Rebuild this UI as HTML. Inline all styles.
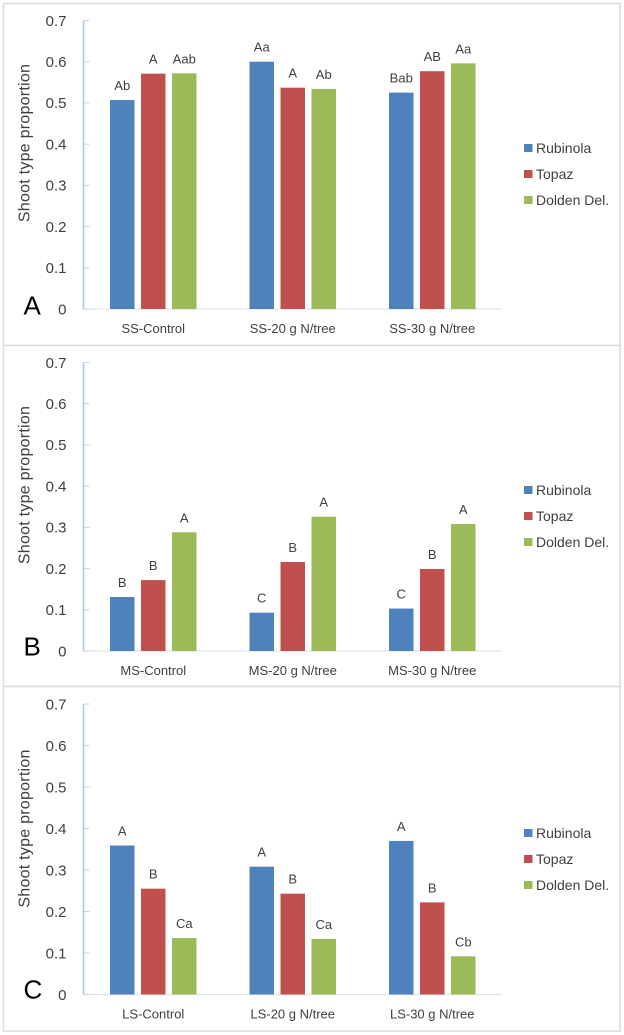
<!DOCTYPE html>
<html lang="en">
<head>
<meta charset="utf-8">
<title>Shoot type proportion</title>
<style>
html,body{margin:0;padding:0;background:#fff;}
svg{display:block;}
text{font-family:"Liberation Sans",sans-serif;fill:#404040;}
</style>
</head>
<body>
<svg id="figure" xmlns="http://www.w3.org/2000/svg" width="624" height="1035" viewBox="0 0 624 1035"></svg>
<script>
const yTickLabels = ["0", "0.1", "0.2", "0.3", "0.4", "0.5", "0.6", "0.7"];
const yTickValues = [0, 0.1, 0.2, 0.3, 0.4, 0.5, 0.6, 0.7];
const seriesNames = ["Rubinola", "Topaz", "Dolden Del."];

const categoriesA = ["SS-Control", "SS-20 g N/tree", "SS-30 g N/tree"];
const rubinolaA = [0.507, 0.600, 0.525];
const topazA = [0.571, 0.537, 0.577];
const doldenA = [0.572, 0.534, 0.596];
const rubinolaLettersA = ["Ab", "Aa", "Bab"];
const topazLettersA = ["A", "A", "AB"];
const doldenLettersA = ["Aab", "Ab", "Aa"];

const categoriesB = ["MS-Control", "MS-20 g N/tree", "MS-30 g N/tree"];
const rubinolaB = [0.131, 0.093, 0.103];
const topazB = [0.172, 0.216, 0.199];
const doldenB = [0.288, 0.326, 0.308];
const rubinolaLettersB = ["B", "C", "C"];
const topazLettersB = ["B", "B", "B"];
const doldenLettersB = ["A", "A", "A"];

const categoriesC = ["LS-Control", "LS-20 g N/tree", "LS-30 g N/tree"];
const rubinolaC = [0.359, 0.308, 0.370];
const topazC = [0.255, 0.243, 0.222];
const doldenC = [0.136, 0.134, 0.092];
const rubinolaLettersC = ["A", "A", "A"];
const topazLettersC = ["B", "B", "B"];
const doldenLettersC = ["Ca", "Ca", "Cb"];

const SVG_NS = "http://www.w3.org/2000/svg";
const root = document.getElementById("figure");
const seriesColors = ["#4f81bd", "#c0504d", "#9bbb59"];
const seriesSlugs = ["rubinola", "topaz", "dolden-del"];

function shape(parent, tag, props) {
  const el = document.createElementNS(SVG_NS, tag);
  for (const k in props) el.setAttribute(k, props[k]);
  parent.appendChild(el);
  return el;
}

function label(parent, str, props) {
  const el = shape(parent, "text", props);
  el.textContent = str;
  return el;
}

function drawPanel(cfg) {
  const plotLeft = 83.5, plotRight = 502, yMax = 0.7;
  const barW = 24.5, barStep = 31;
  const yScale = v => cfg.base - (v / yMax) * (cfg.base - cfg.top);
  const xBand = i => plotLeft + (plotRight - plotLeft) * (i + 0.5) / cfg.categories.length;

  const g = shape(root, "g", {});
  
  

  const frame = shape(g, "rect", {x: 3.5, y: cfg.frameTop, width: 616.5, height: cfg.frameBottom - cfg.frameTop, fill: "#fff", stroke: "#dcdcdc", "stroke-width": 1.5});
  
  

  const baseline = shape(g, "line", {x1: plotLeft, x2: plotRight, y1: cfg.base, y2: cfg.base, stroke: "#dfe3ea", "stroke-width": 1.2});
  
  

  const axis = shape(g, "line", {x1: plotLeft, x2: plotLeft, y1: cfg.top, y2: cfg.base, stroke: "#b3c6df", "stroke-width": 1.6});
  
  

  yTickValues.forEach((v, i) => {
    const tick = shape(g, "line", {x1: plotLeft, x2: plotLeft + 6, y1: yScale(v), y2: yScale(v), stroke: "#c3d2e6", "stroke-width": 1});
    
    
    const tickText = label(g, yTickLabels[i], {x: 66.5, y: yScale(v) + 5.3, "text-anchor": "end", "font-size": 15});
    
    
  });

  const titleY = cfg.base - 166;
  const title = label(g, "Shoot type proportion", {x: 0, y: 0, transform: "translate(29.5 " + titleY + ") rotate(-90)", "text-anchor": "middle", "font-size": 16, "letter-spacing": 0.25});
  
  

  cfg.categories.forEach((cat, c) => {
    const catText = label(g, cat, {x: xBand(c), y: cfg.base + 24, "text-anchor": "middle", "font-size": 13});
    
    

    cfg.series.forEach((vals, s) => {
      const cx = xBand(c) + (s - 1) * barStep;
      const topY = yScale(vals[c]);
      const bar = shape(g, "rect", {x: cx - barW / 2, y: topY, width: barW, height: cfg.base - topY, fill: seriesColors[s]});
      
      
      const letter = label(g, cfg.letters[s][c], {x: cx, y: topY - 10, "text-anchor": "middle", "font-size": 13});
      
      
    });
  });

  seriesNames.forEach((name, s) => {
    const ly = cfg.legendTop + s * 26;
    const swatch = shape(g, "rect", {x: 524, y: ly - 4, width: 8.5, height: 8, fill: seriesColors[s]});
    
    
    const entry = label(g, name, {x: 536, y: ly + 5, "font-size": 14});
    
    
  });

  const panelLetter = label(g, cfg.id, {x: cfg.letterX, y: cfg.letterY, "font-size": 26});
  
  
  panelLetter.style.fill = "#000";
}

drawPanel({
  id: "A", frameTop: 3.5, frameBottom: 345.5, top: 20.5, base: 309, legendTop: 148, letterX: 23.5, letterY: 314.5,
  categories: categoriesA,
  series: [rubinolaA, topazA, doldenA],
  letters: [rubinolaLettersA, topazLettersA, doldenLettersA]
});
drawPanel({
  id: "B", frameTop: 345.5, frameBottom: 686.5, top: 362.5, base: 651, legendTop: 490, letterX: 23.5, letterY: 655.5,
  categories: categoriesB,
  series: [rubinolaB, topazB, doldenB],
  letters: [rubinolaLettersB, topazLettersB, doldenLettersB]
});
drawPanel({
  id: "C", frameTop: 686.5, frameBottom: 1031, top: 704, base: 994.5, legendTop: 833, letterX: 23.5, letterY: 998.5,
  categories: categoriesC,
  series: [rubinolaC, topazC, doldenC],
  letters: [rubinolaLettersC, topazLettersC, doldenLettersC]
});
</script>
</body>
</html>
